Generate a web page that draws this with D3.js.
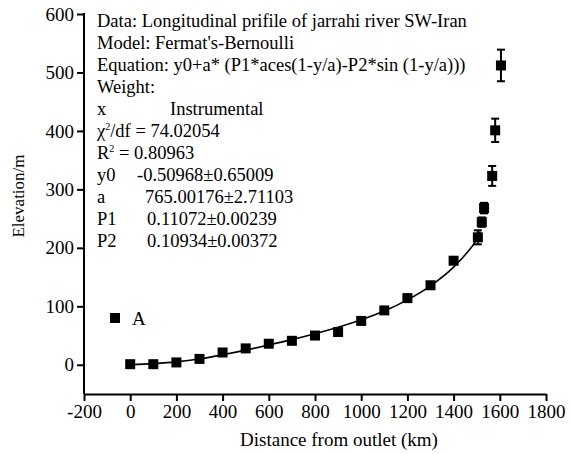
<!DOCTYPE html>
<html>
<head>
<meta charset="utf-8">
<script src="https://cdn.jsdelivr.net/npm/d3@7"></script>
<style>
  body { margin: 0; background: #fff; }
  svg { font-family: "Liberation Serif", "Times New Roman", serif; }
</style>
</head>
<body>
<svg id="chart" width="570" height="454"></svg>
<script>
var distance = [0, 100, 200, 300, 400, 500, 600, 700, 800, 900, 1000, 1100, 1200, 1300, 1400, 1505, 1522, 1532, 1567, 1580, 1605];
var elevation = [1, 1, 4, 10, 21, 28, 36, 41, 50, 56, 75, 93, 114, 136, 178, 218, 244, 268, 323, 401, 512];
var errBar = [1, 1, 1, 1, 2, 2, 2, 2, 2, 2, 2, 3, 3, 3, 5, 12, 8, 9, 17, 20, 27];

// fitted curve
var fitX = [0, 100, 200, 300, 400, 500, 600, 700, 800, 900, 1000, 1100, 1200, 1300, 1400, 1450, 1500, 1515];
var fitY = [0, 2, 5, 10, 17, 25, 34, 43, 53, 64, 77, 92, 111, 135, 167, 188, 215, 228];

var xTicks = [-200, 0, 200, 400, 600, 800, 1000, 1200, 1400, 1600, 1800];
var yTicks = [0, 100, 200, 300, 400, 500, 600];

var fitInfo = [
  {label: "Data: Longitudinal prifile of jarrahi river SW-Iran"},
  {label: "Model: Fermat's-Bernoulli"},
  {label: "Equation: y0+a* (P1*aces(1-y/a)-P2*sin (1-y/a)))"},
  {label: "Weight:"},
  {label: "x", value: "Instrumental", dx: 73},
  {label: "chi"},
  {label: "R2"},
  {label: "y0", value: "-0.50968\u00b10.65009", dx: 40},
  {label: "a", value: "765.00176\u00b12.71103", dx: 48},
  {label: "P1", value: "0.11072\u00b10.00239", dx: 50},
  {label: "P2", value: "0.10934\u00b10.00372", dx: 50}
];

var svg = d3.select("svg#chart");

var x = d3.scaleLinear().domain([-200, 1800]).range([84, 546]);
var y = d3.scaleLinear().domain([-50, 600]).range([394, 14]);

var plain = function(d) { return String(d); };

// axes
var xAxis = svg.append("g")
  .attr("transform", "translate(0," + y(-50) + ")")
  .call(d3.axisBottom(x).tickValues(xTicks).tickFormat(plain).tickSize(7).tickPadding(4).tickSizeOuter(0));
var yAxis = svg.append("g")
  .attr("transform", "translate(" + x(-200) + ",0)")
  .call(d3.axisLeft(y).tickValues(yTicks).tickFormat(plain).tickSize(7).tickPadding(3).tickSizeOuter(0));

[xAxis, yAxis].forEach(function(ax) {
  ax.select(".domain").attr("stroke", "#000").attr("stroke-width", 2);
  ax.selectAll(".tick line").attr("stroke", "#000").attr("stroke-width", 2);
  ax.selectAll(".tick text")
    .attr("fill", "#000")
    .style("font-family", "'Liberation Serif', 'Times New Roman', serif")
    .style("font-size", "19px");
});
// y axis line needs to reach the top tick
yAxis.select(".domain").attr("d", "M0," + (y(600) - 1) + "V" + y(-50));

svg.append("text")
  .attr("x", 339)
  .attr("y", 446)
  .attr("text-anchor", "middle")
  .style("font-size", "19px")
  .text("Distance from outlet (km)");

svg.append("text")
  .attr("transform", "translate(24,196) rotate(-90)")
  .attr("text-anchor", "middle")
  .style("font-size", "17px")
  .text("Elevation/m");

// fit line
var fitPts = fitX.map(function(d, i) { return [d, fitY[i]]; });
svg.append("path")
  .datum(fitPts)
  .attr("fill", "none")
  .attr("stroke", "#000")
  .attr("stroke-width", 1.6)
  .attr("d", d3.line()
    .x(function(d) { return x(d[0]); })
    .y(function(d) { return y(d[1]); })
    .curve(d3.curveMonotoneX));

var pts = distance.map(function(d, i) { return {x: d, y: elevation[i], e: errBar[i]}; });

// error bars
var eb = svg.append("g").attr("stroke", "#000").attr("stroke-width", 2);
pts.forEach(function(d) {
  var cx = x(d.x), top = y(d.y + d.e), bot = y(d.y - d.e);
  eb.append("line").attr("x1", cx).attr("x2", cx).attr("y1", top).attr("y2", bot);
  eb.append("line").attr("x1", cx - 4).attr("x2", cx + 4).attr("y1", top).attr("y2", top);
  eb.append("line").attr("x1", cx - 4).attr("x2", cx + 4).attr("y1", bot).attr("y2", bot);
});

svg.append("g").selectAll("rect")
  .data(pts)
  .enter().append("rect")
  .attr("x", function(d) { return x(d.x) - 5; })
  .attr("y", function(d) { return y(d.y) - 5; })
  .attr("width", 10)
  .attr("height", 10)
  .attr("fill", "#000");

// legend
svg.append("rect").attr("x", 110).attr("y", 313).attr("width", 10).attr("height", 10).attr("fill", "#000");
svg.append("text").attr("x", 132).attr("y", 325).style("font-size", "19px").text("A");

// fit report text
var info = svg.append("g").style("font-size", "18.5px");
fitInfo.forEach(function(row, i) {
  var by = 27 + i * 22;
  var t = info.append("text").attr("x", 97).attr("y", by);
  if (row.label == "chi") {
    t.append("tspan").text("\u03c7");
    t.append("tspan").attr("dy", -7).style("font-size", "10px").text("2");
    t.append("tspan").attr("dy", 7).text("/df = 74.02054");
  } else if (row.label == "R2") {
    t.append("tspan").text("R");
    t.append("tspan").attr("dy", -7).style("font-size", "10px").text("2");
    t.append("tspan").attr("dy", 7).text(" = 0.80963");
  } else {
    t.text(row.label);
  }
  if (row.value) {
    info.append("text").attr("x", 97 + row.dx).attr("y", by).text(row.value);
  }
});
</script>
</body>
</html>
